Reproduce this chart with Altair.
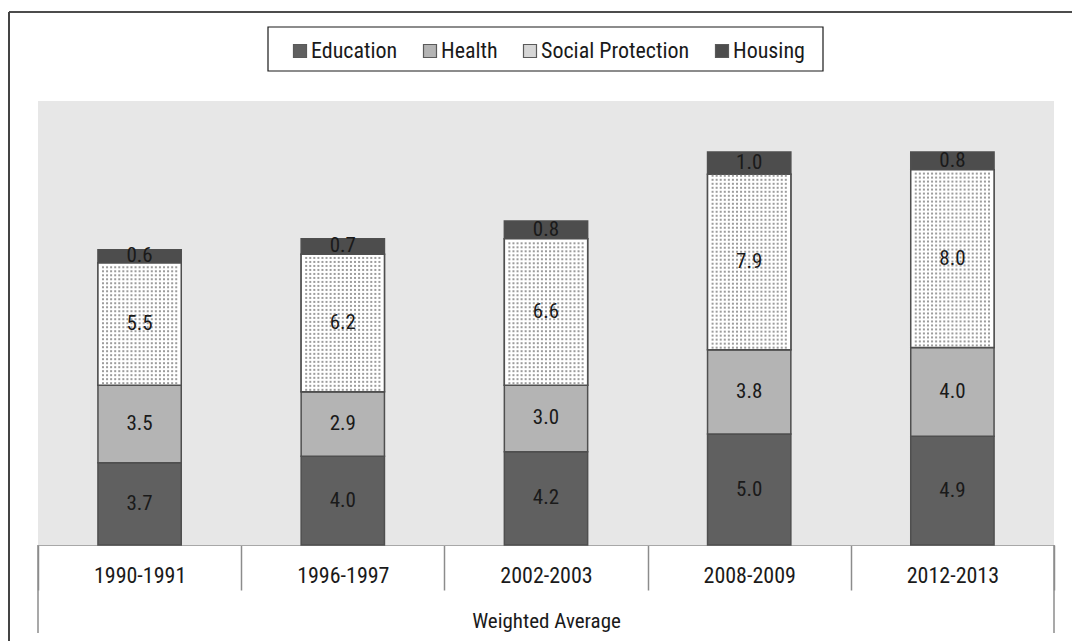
import altair as alt
import pandas as pd

# Public social spending by function (% of GDP), weighted average
periods = ["1990-1991", "1996-1997", "2002-2003", "2008-2009", "2012-2013"]
categories = ["Education", "Health", "Social Protection", "Housing"]
education = [3.7, 4.0, 4.2, 5.0, 4.9]
health = [3.5, 2.9, 3.0, 3.8, 4.0]
social_protection = [5.5, 6.2, 6.6, 7.9, 8.0]
housing = [0.6, 0.7, 0.8, 1.0, 0.8]

fills = ["#606060", "#b4b4b4", "#d6d6d6", "#4d4d4d"]
FONT = "Liberation Sans Narrow, Roboto Condensed, DejaVu Sans Condensed, Liberation Sans, sans-serif"

W, H = 1016, 444
BAND_PX = W / len(periods)
BAR_FRACTION = 0.41          # bar width as a share of each category band
BAR_PX = BAND_PX * BAR_FRACTION

series = dict(zip(categories, [education, health, social_protection, housing]))
rows = []
for ci, cat in enumerate(categories):
    for pi, p in enumerate(periods):
        rows.append({"period": p, "category": cat, "value": series[cat][pi], "order": ci})
df = pd.DataFrame(rows)

# stipple grid filling each Social Protection segment
# (offsets are measured from the start of the category band)
dot_step = 0.18              # vertical spacing in data units
n_cols = 19
col_px = (BAR_PX - 6) / n_cols
dots = []
for pi, p in enumerate(periods):
    lo = education[pi] + health[pi]
    hi = lo + social_protection[pi]
    y = lo + dot_step / 2
    while y < hi - dot_step / 3:
        for c in range(n_cols):
            dots.append({"period": p, "dx": BAND_PX / 2 + (c - (n_cols - 1) / 2) * col_px, "y": y})
        y += dot_step
dots_df = pd.DataFrame(dots)

x_scale = alt.Scale(domain=periods, paddingInner=0, paddingOuter=0)
y_scale = alt.Scale(domain=[0, 20])

x_axis = alt.Axis(
    title="Weighted Average", labelAngle=0, labelFont=FONT, labelFontSize=22,
    labelColor="#1a1a1a", titleFont=FONT, titleFontSize=21, titleFontWeight="normal",
    titleColor="#1a1a1a", titlePadding=20, tickSize=45, tickBand="extent",
    tickColor="#8c8c8c", tickWidth=1.5, domainColor="#a8a8a8", domainWidth=1,
    labelPadding=-25, grid=False,
)

base = alt.Chart(df).transform_stack(
    stack="value", groupby=["period"], sort=[alt.SortField("order")], as_=["y0", "y1"]
).transform_calculate(mid="(datum.y0 + datum.y1) / 2")

bar_width = alt.RelativeBandSize(BAR_FRACTION)

bars = base.mark_bar(stroke="#4f4f4f", strokeWidth=1.5, width=bar_width).encode(
    x=alt.X("period:N", scale=x_scale, axis=x_axis, sort=periods),
    y=alt.Y("y0:Q", scale=y_scale, axis=None),
    y2="y1:Q",
    color=alt.Color(
        "category:N",
        scale=alt.Scale(domain=categories, range=fills),
        legend=alt.Legend(
            title=None, orient="none", direction="horizontal", legendX=251, legendY=-61,
            labelFont=FONT, labelFontSize=22, labelColor="#1a1a1a", symbolType="square",
            symbolSize=169, symbolStrokeColor="#5a5a5a", symbolStrokeWidth=1.2,
            labelOffset=0, columnPadding=21, padding=0,
        ),
    ),
)

# white body for the Social Protection segments, overlaid with the stipple
sp_body = base.transform_filter(alt.datum.category == "Social Protection").mark_bar(
    stroke="#4f4f4f", strokeWidth=1.5, fill="#ffffff", width=bar_width
).encode(
    x=alt.X("period:N", scale=x_scale, sort=periods),
    y=alt.Y("y0:Q", scale=y_scale),
    y2="y1:Q",
)

stipple = alt.Chart(dots_df).mark_square(size=4, color="#9c9c9c", opacity=1).encode(
    x=alt.X("period:N", scale=x_scale, sort=periods),
    xOffset=alt.XOffset("dx:Q", scale=None),
    y=alt.Y("y:Q", scale=y_scale),
)

labels = base.mark_text(font=FONT, fontSize=21, color="#1a1a1a", baseline="middle").encode(
    x=alt.X("period:N", scale=x_scale, sort=periods),
    y=alt.Y("mid:Q", scale=y_scale),
    text=alt.Text("value:Q", format=".1f"),
)

one = pd.DataFrame({"k": [0]})
# legend frame
legend_box = alt.Chart(one).mark_rect(fill="#ffffff", stroke="#1a1a1a", strokeWidth=1.2).encode(
    x=alt.value(230), x2=alt.value(785), y=alt.value(-74), y2=alt.value(-30)
)
# outer chart frame (top and left edges)
frame_top = alt.Chart(one).mark_rule(color="#111111", strokeWidth=1.5).encode(
    x=alt.value(-29), x2=alt.value(1040), y=alt.value(-89)
)
frame_left = alt.Chart(one).mark_rule(color="#444444", strokeWidth=2).encode(
    x=alt.value(-29), y=alt.value(-89), y2=alt.value(545)
)
# long outer separators of the category axis
axis_edges = alt.Chart(pd.DataFrame({"edge": [0, W]})).mark_rule(color="#8c8c8c", strokeWidth=1.5).encode(
    x=alt.X("edge:Q", scale=None), y=alt.value(H), y2=alt.value(H + 88)
)

chart = alt.layer(
    frame_top, frame_left, legend_box, bars, sp_body, stipple, labels, axis_edges
).properties(
    width=W, height=H,
    autosize=alt.AutoSizeParams(type="none"),
    padding={"left": 38, "top": 101, "right": 18, "bottom": 96},
    background="#ffffff",
).configure_view(fill="#e7e7e7", stroke=None)

chart.save("out.html", embed_options={"renderer": "svg", "actions": False})
